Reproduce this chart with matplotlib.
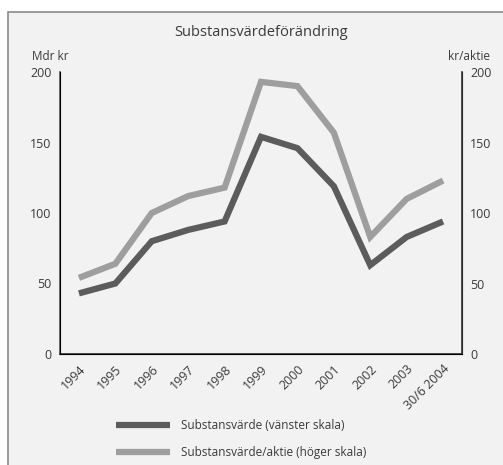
import numpy as np
import matplotlib.pyplot as plt
from matplotlib.patches import Rectangle

plt.rcParams['font.family'] = ['Open Sans', 'DejaVu Sans']

years = ["1994", "1995", "1996", "1997", "1998", "1999", "2000", "2001", "2002", "2003", "30/6 2004"]
substansvarde = [43, 50, 80, 88, 94, 154, 146, 119, 63, 83, 94]
per_aktie = [54, 64, 100, 112, 118, 193, 190, 157, 83, 110, 123]

dark = "#5c5c5c"
light = "#9e9e9e"
bg = "#f2f2f2"
txt = "#3a3a3a"

fig = plt.figure(figsize=(5.03, 4.65), dpi=100)
fig.patch.set_facecolor("white")
# framed background panel
fig.patches.append(Rectangle((8 / 503, -0.1), 1.2, 1 - 12 / 465 + 0.1,
                             transform=fig.transFigure, facecolor=bg,
                             edgecolor="#8a8a8a", linewidth=1.2, zorder=-5))

ax = fig.add_axes([60 / 503, 1 - 354 / 465, 402 / 503, 282 / 465])
ax.set_facecolor("none")
ax2 = ax.twinx()

x = np.arange(len(years))
l1, = ax.plot(x, substansvarde, color=dark, lw=4.5, solid_joinstyle="miter",
              solid_capstyle="butt", label="Substansvärde (vänster skala)")
l2, = ax2.plot(x, per_aktie, color=light, lw=4.5, solid_joinstyle="miter",
               solid_capstyle="butt", label="Substansvärde/aktie (höger skala)")

for a in (ax, ax2):
    a.set_xlim(-0.52, 10.52)
    a.set_ylim(0, 200)
    a.set_yticks([0, 50, 100, 150, 200])
    a.spines["top"].set_visible(False)
    a.tick_params(length=0, labelsize=9, colors=txt)

ax.spines["left"].set_color("#555555")
ax.spines["bottom"].set_color("#333333")
ax2.spines["right"].set_color("#333333")
ax.spines["left"].set_linewidth(1.2)
ax.spines["bottom"].set_linewidth(1.2)
ax2.spines["right"].set_linewidth(1.2)
ax.tick_params(axis="y", pad=6)
ax2.tick_params(axis="y", pad=6)

ax.set_xticks(x)
ax.set_xticklabels(years, rotation=45, ha="right", rotation_mode="anchor")
ax.tick_params(axis="x", pad=6)

fig.text(261 / 503, 1 - 33 / 465, "Substansvärdeförändring", ha="center",
         va="center", fontsize=10.5, color=txt)
fig.text(32 / 503, 1 - 57 / 465, "Mdr kr", ha="left", va="center",
         fontsize=8.5, color=txt)
fig.text(490 / 503, 1 - 57 / 465, "kr/aktie", ha="right", va="center",
         fontsize=8.5, color=txt)

fig.legend(handles=[l1, l2], loc="center left",
           bbox_to_anchor=(105 / 503, 1 - 439 / 465), frameon=False,
           fontsize=8.5, handlelength=4.6, handletextpad=0.9,
           labelspacing=1.2, labelcolor=txt)

fig.savefig("out.png", dpi=100)
